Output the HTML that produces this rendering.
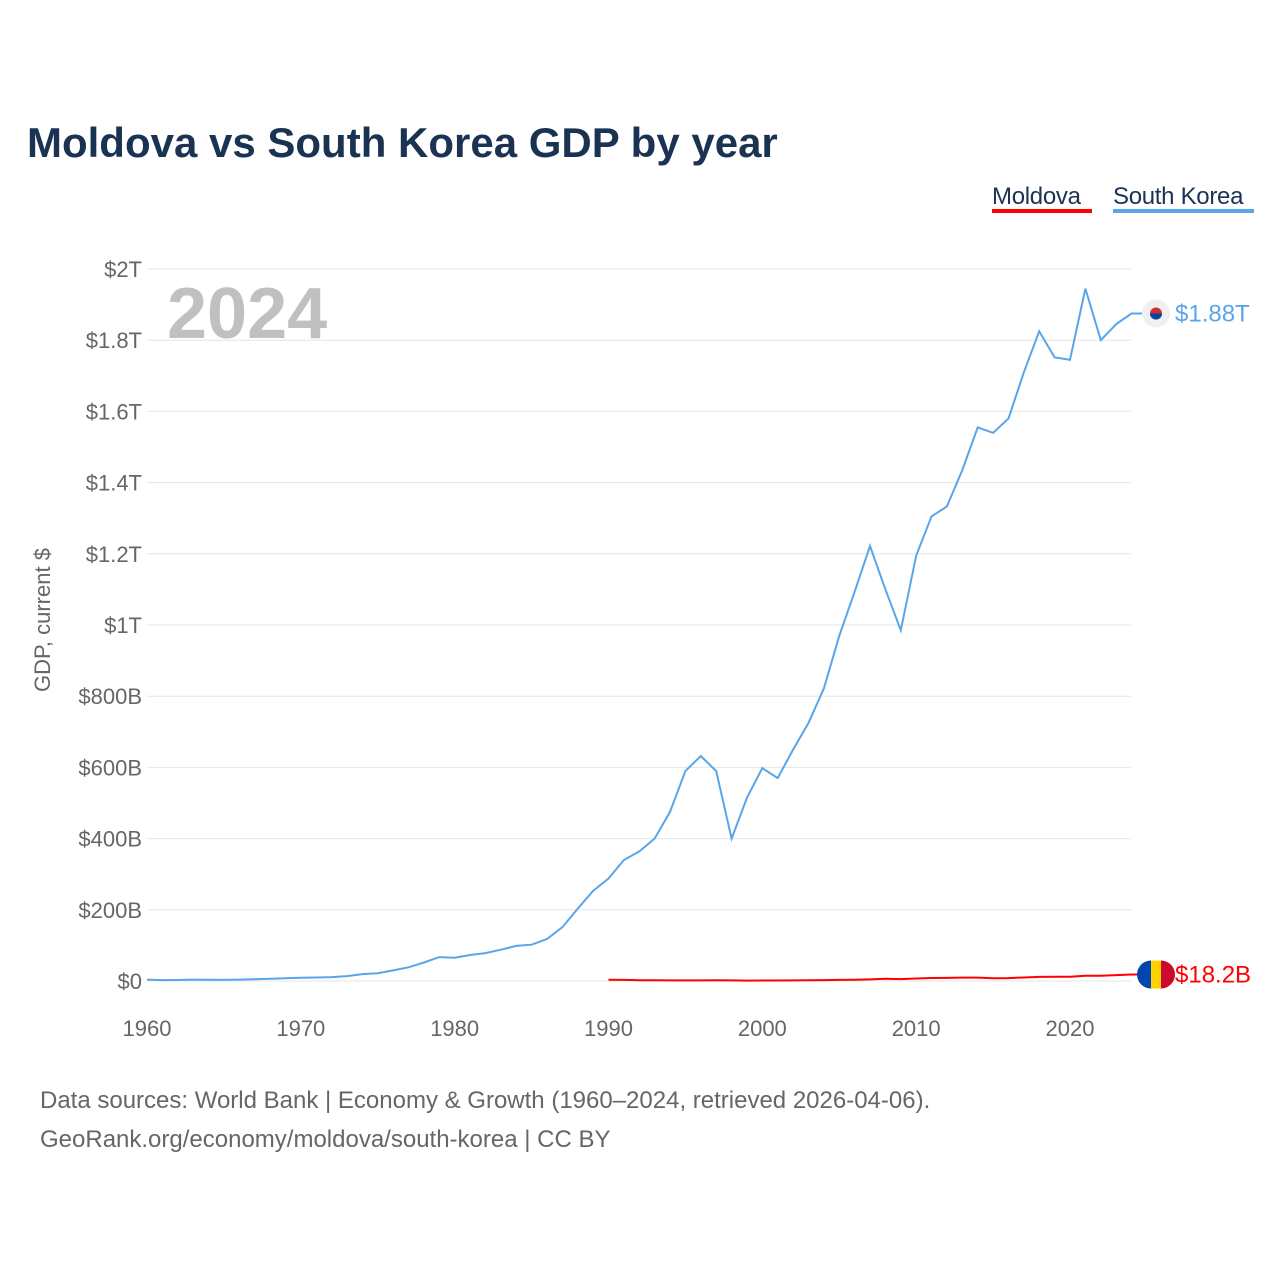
<!DOCTYPE html>
<html><head><meta charset="utf-8"><style>
body{margin:0;background:#fff;font-family:"Liberation Sans",sans-serif}
</style></head><body>
<svg width="1280" height="1280" xmlns="http://www.w3.org/2000/svg">
<text x="27" y="157" font-size="42" font-weight="bold" fill="#1b3353">Moldova vs South Korea GDP by year</text>
<g><text x="992" y="204" font-size="24" fill="#1b3353" letter-spacing="-0.3">Moldova</text><rect x="992" y="209" width="100" height="4" fill="#f00"/></g>
<g><text x="1113" y="204" font-size="24" fill="#1b3353" letter-spacing="-0.3">South Korea</text><rect x="1113" y="209" width="141" height="4" fill="#5aa5ea"/></g>
<g id="grid"></g>
<text x="167" y="338" font-size="72" font-weight="bold" fill="#c0c0c0">2024</text>
<text transform="translate(50,620) rotate(-90)" text-anchor="middle" font-size="22" fill="#666">GDP, current $</text>
<g id="marks"></g>
<text x="40" y="1108" font-size="24" fill="#666">Data sources: World Bank | Economy &amp; Growth (1960–2024, retrieved 2026-04-06).</text>
<text x="40" y="1147" font-size="24" fill="#666">GeoRank.org/economy/moldova/south-korea | CC BY</text>
</svg>
<script>
const yTicks=[0,200,400,600,800,1000,1200,1400,1600,1800,2000];
const yTickLabels=["$0","$200B","$400B","$600B","$800B","$1T","$1.2T","$1.4T","$1.6T","$1.8T","$2T"];
const xTicks=[1960,1970,1980,1990,2000,2010,2020];
const koreaStart=1960;
const korea=[4,2.4,2.8,3.9,3.5,3.1,3.9,4.9,6.2,7.7,9,9.9,10.9,13.9,19.5,21.8,29.8,38.4,52,67,65.4,72.9,78.4,88,98.5,102,118,151,203,253,288,340,364,400,475,590,632,590,400,515,598,570,650,725,822,970,1093,1222,1100,985,1195,1305,1333,1435,1555,1540,1580,1710,1825,1752,1745,1945,1800,1845,1875];
const moldovaStart=1990;
const moldova=[3.6,3.1,2.3,2.2,1.7,1.75,1.7,1.93,1.7,1.17,1.29,1.48,1.66,1.98,2.6,2.99,3.4,4.4,6.05,5.44,6.97,8.4,8.7,9.5,9.5,7.7,8.1,9.7,11.5,11.9,11.9,14.5,14.5,16.5,18.2];
const X=y=>147+(y-1960)*(1070-147)/60;
const Y=v=>981-v*(981-269)/2000;
const NS="http://www.w3.org/2000/svg";
function mk(t,a,p){const e=document.createElementNS(NS,t);for(const k in a)e.setAttribute(k,a[k]);p.appendChild(e);return e;}
const g=document.getElementById('grid'),m=document.getElementById('marks');
yTicks.forEach((v,i)=>{
 const l=mk('line',{x1:147,x2:1131,y1:Y(v),y2:Y(v),stroke:'#e6e6e6','stroke-width':1},g);
 
 
 const t=mk('text',{x:142,y:Y(v)+8,'text-anchor':'end','font-size':22,fill:'#666'},g);
 t.textContent=yTickLabels[i];
 
 
});
xTicks.forEach(y=>{
 const t=mk('text',{x:X(y),y:1036,'text-anchor':'middle','font-size':22,fill:'#666'},g);
 t.textContent=y;
 
 
});
function line(arr,start,col,name){
 const d=arr.map((v,i)=>(i?'L':'M')+X(start+i).toFixed(1)+' '+Y(v).toFixed(1)).join(' ');
 const p=mk('path',{d:d,fill:'none',stroke:col,'stroke-width':2},m);
 
 
}
line(korea,koreaStart,'#5aa5ea','south-korea-line');
line(moldova,moldovaStart,'#f00','moldova-line');
const kl=korea[korea.length-1],ml=moldova[moldova.length-1];
mk('line',{x1:1131,x2:1142,y1:Y(kl),y2:Y(kl),stroke:'#5aa5ea','stroke-width':2},m);
mk('line',{x1:1131,x2:1142,y1:Y(ml),y2:Y(ml),stroke:'#f00','stroke-width':2},m);
const kf=mk('g',{},m);


mk('circle',{cx:1156,cy:Y(kl),r:14,fill:'#f0f0f0'},kf);
mk('circle',{cx:1156,cy:Y(kl),r:6,fill:'#cd2e3a'},kf);
mk('path',{d:`M1150 ${Y(kl)} A6 6 0 0 0 1162 ${Y(kl)} Z`,fill:'#0047a0'},kf);
const mf=mk('g',{},m);


const cy=Y(ml);
mk('path',{d:`M1151 ${cy-14} A14 14 0 0 0 1151 ${cy+14} Z`,fill:'#0046ae'},mf);
mk('rect',{x:1151,y:cy-14,width:10,height:28,fill:'#ffd200'},mf);
mk('path',{d:`M1161 ${cy-14} A14 14 0 0 1 1161 ${cy+14} Z`,fill:'#cc092f'},mf);
const kt=mk('text',{x:1175,y:Y(kl)+8,'font-size':24,fill:'#5aa5ea'},m);
kt.textContent='$1.88T';


const mt=mk('text',{x:1175,y:Y(ml)+8,'font-size':24,fill:'#f00'},m);
mt.textContent='$18.2B';


</script>
</body></html>
